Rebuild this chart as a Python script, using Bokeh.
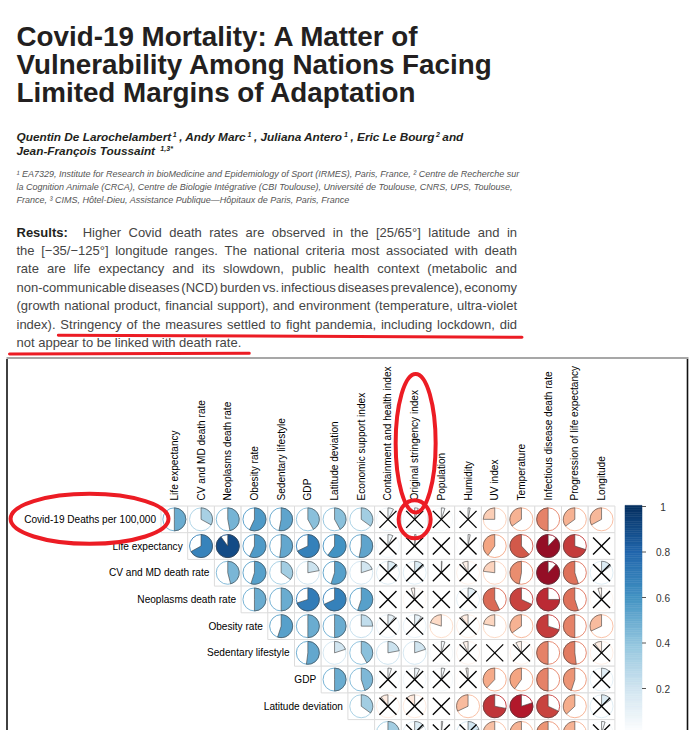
import math
import unicodedata
import numpy as np
from bokeh.plotting import figure
from bokeh.models import Range1d, ColumnDataSource
from bokeh.core.properties import value
from bokeh.embed import file_html
from bokeh.resources import INLINE

# ======================= DATA =======================
title_lines = [
    "Covid-19 Mortality: A Matter of",
    "Vulnerability Among Nations Facing",
    "Limited Margins of Adaptation",
]
author_line1 = [("Quentin De Larochelambert", "n"), ("1", "sup"), (", Andy Marc", "n"), ("1", "sup"),
                (", Juliana Antero", "n"), ("1", "sup"), (", Eric Le Bourg", "n"), ("2", "sup"), (" and", "n")]
author_line2 = [("Jean-François Toussaint ", "n"), ("1,3*", "sup")]
affil_lines = [
    "¹ EA7329, Institute for Research in bioMedicine and Epidemiology of Sport (IRMES), Paris, France, ² Centre de Recherche sur",
    "la Cognition Animale (CRCA), Centre de Biologie Intégrative (CBI Toulouse), Université de Toulouse, CNRS, UPS, Toulouse,",
    "France, ³ CIMS, Hôtel-Dieu, Assistance Publique—Hôpitaux de Paris, Paris, France",
]
results_lines = [
    "Results:  Higher Covid death rates are observed in the [25/65°] latitude and in",
    "the [−35/−125°] longitude ranges. The national criteria most associated with death",
    "rate are life expectancy and its slowdown, public health context (metabolic and",
    "non-communicable diseases (NCD) burden vs. infectious diseases prevalence), economy",
    "(growth national product, financial support), and environment (temperature, ultra-violet",
    "index). Stringency of the measures settled to fight pandemia, including lockdown, did",
    "not appear to be linked with death rate.",
]
highlight_word = "Stringency"

variables = [
    "Covid-19 Deaths per 100,000", "Life expectancy", "CV and MD death rate", "Neoplasms death rate",
    "Obesity rate", "Sedentary lifestyle", "GDP", "Latitude deviation", "Economic support index",
    "Containment and health index", "Original stringency index", "Population", "Humidity", "UV index",
    "Temperature", "Infectious disease death rate", "Progression of life expectancy", "Longitude",
]
col_vars = variables[1:]

# correlation of each row variable with the columns, starting at the row's own column index
corr_covid = [0.50, 0.33, 0.47, 0.57, 0.53, 0.42, 0.42, 0.35, 0.08, 0.05, 0.05, 0.03, -0.25, -0.35, -0.50, -0.35, -0.33]
corr_life = [0.67, 0.90, 0.57, 0.52, 0.68, 0.60, 0.53, 0.07, 0.02, 0.00, 0.03, -0.40, -0.62, -0.88, -0.70, 0.00]
corr_cvmd = [0.46, 0.55, 0.35, 0.22, 0.55, 0.20, 0.15, 0.15, 0.01, -0.08, -0.23, -0.47, -0.88, -0.55, 0.15]
corr_neo = [0.50, 0.50, 0.70, 0.68, 0.55, 0.00, -0.05, 0.00, 0.12, -0.57, -0.68, -0.75, -0.55, -0.05]
corr_obes = [0.55, 0.50, 0.50, 0.25, 0.10, 0.10, -0.20, -0.10, -0.22, -0.35, -0.70, -0.50, -0.32]
corr_sed = [0.52, 0.20, 0.42, 0.22, 0.20, 0.05, -0.07, 0.00, -0.08, -0.50, -0.52, -0.10]
corr_gdp = [0.50, 0.45, 0.05, 0.07, 0.05, -0.03, -0.38, -0.40, -0.50, -0.45, 0.12]
corr_lat = [0.35, -0.10, -0.12, 0.00, -0.32, -0.72, -0.80, -0.68, -0.37, 0.15]
corr_econ = [0.35, 0.15, 0.02, 0.20, -0.30, -0.35, -0.45, -0.35, 0.05]

# non-significant cells (column indices), crossed out
ns_covid = [8, 9, 10, 11]
ns_life = [8, 9, 10, 11, 16]
ns_cvmd = [8, 9, 10, 11, 16]
ns_neo = [8, 9, 10, 11, 16]
ns_obes = [8, 9, 11]
ns_sed = [10, 11, 12, 13, 16]
ns_gdp = [8, 9, 10, 11, 16]
ns_lat = [8, 9, 10, 16]
ns_econ = [9, 10, 11, 16]

row_corrs = [corr_covid, corr_life, corr_cvmd, corr_neo, corr_obes, corr_sed, corr_gdp, corr_lat, corr_econ]
row_ns = [ns_covid, ns_life, ns_cvmd, ns_neo, ns_obes, ns_sed, ns_gdp, ns_lat, ns_econ]

cbar_ticks = [1.0, 0.8, 0.6, 0.4, 0.2, 0.0, -0.2, -0.4, -0.6, -0.8, -1.0]
highlight_row = 0
highlight_col = 9

# ======================= STYLE / LAYOUT =======================
RDBU = ["#67001F", "#B2182B", "#D6604D", "#F4A582", "#FDDBC7", "#FFFFFF",
        "#D1E5F0", "#92C5DE", "#4393C3", "#2166AC", "#053061"]
FONT = "Liberation Sans"
RED = "#ec1c24"
W, H = 698, 730
MID = 0.34  # baseline -> visual middle, in font sizes

GRID_LEFT, GRID_TOP, CELL = 160.5, 505.5, 26.7
PIE_R, X_HALF = 11.5, 8.5
CB_LEFT, CB_RIGHT, CB_TOP, CB_SCALE = 624.5, 641.5, 506.0, 227.5

REG = {' ': 278, '!': 278, '"': 355, "'": 191, '(': 333, ')': 333, '*': 389, '+': 584, ',': 278, '-': 333,
       '.': 278, '/': 278, ':': 278, ';': 278, '?': 556, '[': 278, ']': 278, '°': 400, '−': 584, '—': 1000,
       '¹': 333, '²': 333, '³': 333}
BOLD = {' ': 278, '!': 333, '"': 474, "'": 238, '(': 333, ')': 333, '*': 389, '+': 584, ',': 278, '-': 333,
        '.': 278, '/': 278, ':': 333, ';': 333, '?': 611, '[': 333, ']': 333, '°': 400, '−': 584, '—': 1000,
        '¹': 333, '²': 333, '³': 333}
for ch, w in zip("ABCDEFGHIJKLMNOPQRSTUVWXYZ",
                 [667, 667, 722, 722, 667, 611, 778, 722, 278, 500, 667, 556, 833, 722, 778, 667, 778, 722, 667, 611, 722, 667, 944, 667, 667, 611]):
    REG[ch] = w
for ch, w in zip("abcdefghijklmnopqrstuvwxyz",
                 [556, 556, 500, 556, 556, 278, 556, 556, 222, 222, 500, 222, 833, 556, 556, 556, 556, 333, 500, 278, 556, 500, 722, 500, 500, 500]):
    REG[ch] = w
for ch, w in zip("ABCDEFGHIJKLMNOPQRSTUVWXYZ",
                 [722, 722, 722, 722, 667, 611, 778, 722, 278, 556, 722, 611, 833, 722, 778, 667, 778, 722, 667, 611, 722, 667, 944, 667, 667, 611]):
    BOLD[ch] = w
for ch, w in zip("abcdefghijklmnopqrstuvwxyz",
                 [556, 611, 556, 611, 556, 333, 611, 611, 278, 278, 556, 278, 889, 611, 611, 611, 611, 389, 556, 333, 611, 556, 778, 556, 556, 500]):
    BOLD[ch] = w
for d in "0123456789":
    REG[d] = 556
    BOLD[d] = 556


def text_em(s, bold=False):
    t = BOLD if bold else REG
    w = 0
    for ch in s:
        if ch in t:
            w += t[ch]
        else:
            w += t.get(unicodedata.normalize("NFD", ch)[0], 556)
    return w / 1000.0


def Y(py):
    return H - py


def hex2rgb(h):
    return tuple(int(h[i:i + 2], 16) for i in (1, 3, 5))


def corr_color(r):
    t = (r + 1) / 2 * (len(RDBU) - 1)
    i = min(int(math.floor(t)), len(RDBU) - 2)
    f = t - i
    a, b = hex2rgb(RDBU[i]), hex2rgb(RDBU[i + 1])
    return "#%02x%02x%02x" % tuple(int(round(a[k] + (b[k] - a[k]) * f)) for k in range(3))


p = figure(width=W, height=H, x_range=Range1d(0, W), y_range=Range1d(0, H),
           output_backend="svg", toolbar_location=None, min_border=0,
           x_axis_location=None, y_axis_location=None)
p.grid.visible = False
p.outline_line_color = None
p.background_fill_color = "white"
p.border_fill_color = "white"


def add_text(xs, ys, texts, size, style="normal", color="#000000", align="left", angle=0.0, on_baseline=True):
    """ys are baselines (on_baseline) or visual centres; text is drawn vertically centred."""
    yy = [Y(v - MID * size) if on_baseline else Y(v) for v in ys]
    src = ColumnDataSource(dict(x=list(xs), y=yy, text=list(texts)))
    p.text(x="x", y="y", text="text", source=src, text_font=value(FONT),
           text_font_size=value("%.2fpx" % size), text_font_style=style, text_color=color,
           text_align=align, text_baseline="middle", angle=angle)


# ---------------- header text ----------------
TITLE_FS = 27.8
add_text([16] * 3, [45, 73, 101], title_lines, TITLE_FS, "bold", "#231f20")

AUTH_FS = 11.8
main_x, main_y, main_t, sup_x, sup_y, sup_t = [], [], [], [], [], []
for segs, base in ((author_line1, 141.0), (author_line2, 155.0)):
    x = 16.0
    for txt, kind in segs:
        if kind == "sup":
            sfs = AUTH_FS * 0.6
            x += 1.5
            sup_x.append(x); sup_y.append(base - AUTH_FS * 0.38); sup_t.append(txt)
            x += text_em(txt, True) * sfs + 2.5
        else:
            main_x.append(x); main_y.append(base); main_t.append(txt)
            x += text_em(txt, True) * AUTH_FS
add_text(main_x, main_y, main_t, AUTH_FS, "bold italic", "#231f20")
add_text(sup_x, sup_y, sup_t, AUTH_FS * 0.6, "bold italic", "#231f20")

AFF_FS = 503.0 / text_em(affil_lines[0])
add_text([16] * 3, [177.0, 190.0, 202.5], affil_lines, AFF_FS, "italic", "#555555")

# justified paragraph
PARA_FS, PARA_L, PARA_R, PARA_TOP, PARA_LH = 13.0, 16.0, 516.5, 236.0, 18.45
w_x, w_y, w_t, b_x, b_y, b_t = [], [], [], [], [], []
underline_starts = {}
for i, line in enumerate(results_lines):
    words = line.split(" ")
    base = PARA_TOP + i * PARA_LH
    widths = [text_em(w, bold=(i == 0 and j == 0)) * PARA_FS for j, w in enumerate(words)]
    if i < len(results_lines) - 1:
        gap = (PARA_R - PARA_L - sum(widths)) / (len(words) - 1)
    else:
        gap = 0.278 * PARA_FS
    x = PARA_L
    for j, (w, wd) in enumerate(zip(words, widths)):
        if w:
            if i == 0 and j == 0:
                b_x.append(x); b_y.append(base); b_t.append(w)
            else:
                w_x.append(x); w_y.append(base); w_t.append(w)
            if w == highlight_word:
                underline_starts[i] = x
        x += wd + gap
    if i == len(results_lines) - 1:
        last_end = x - gap
add_text(w_x, w_y, w_t, PARA_FS, "normal", "#454545")
add_text(b_x, b_y, b_t, PARA_FS, "bold", "#231f20")

# figure frame
p.segment(x0=[6], y0=[Y(357.5)], x1=[688], y1=[Y(357.5)], line_color="#8a8a8a", line_width=1.5)
p.segment(x0=[6.5, 687.0], y0=[Y(358.5)] * 2, x1=[6.5, 687.0], y1=[Y(H)] * 2,
          line_color="#111111", line_width=1.6)

# ---------------- correlation grid ----------------
cx, cy, ccol, st, en, wcol = [], [], [], [], [], []
wx, wy = [], []
xs0, ys0, xs1, ys1 = [], [], [], []
for r, (vals, ns) in enumerate(zip(row_corrs, row_ns)):
    for k, v in enumerate(vals):
        c = r + k
        x = GRID_LEFT + (c + 0.5) * CELL
        y = Y(GRID_TOP + (r + 0.5) * CELL)
        cx.append(x); cy.append(y); ccol.append(corr_color(v))
        if abs(v) > 0.004:
            wx.append(x); wy.append(y); wcol.append(corr_color(v))
            if v > 0:
                st.append(math.pi / 2 - 2 * math.pi * v); en.append(math.pi / 2)
            else:
                st.append(math.pi / 2); en.append(math.pi / 2 + 2 * math.pi * (-v))
        if c in ns:
            xs0 += [x - X_HALF, x - X_HALF]; ys0 += [y + X_HALF, y - X_HALF]
            xs1 += [x + X_HALF, x + X_HALF]; ys1 += [y - X_HALF, y + X_HALF]

p.rect(x=cx, y=cy, width=CELL, height=CELL, fill_color="white", line_color="#dcdcdc", line_width=1)
p.circle(x=cx, y=cy, radius=PIE_R, fill_color=None, line_color=ccol, line_width=0.9)
p.wedge(x=wx, y=wy, radius=PIE_R, start_angle=st, end_angle=en, direction="anticlock",
        fill_color=wcol, line_color="#404040", line_width=0.6)
p.segment(x0=xs0, y0=ys0, x1=xs1, y1=ys1, line_color="#000000", line_width=1.3)

# labels (only those that fall inside the picture)
LAB_FS = 10.1
add_text([GRID_LEFT + (c + 0.5) * CELL for c in range(len(col_vars))], [500.0] * len(col_vars),
         col_vars, LAB_FS, "normal", "#000000", "left", math.pi / 2, on_baseline=False)
vis_rows = [r for r in range(len(row_corrs)) if GRID_TOP + (r + 0.5) * CELL + LAB_FS * 0.5 < H]
add_text([GRID_LEFT + r * CELL - 5.0 for r in vis_rows],
         [GRID_TOP + (r + 0.5) * CELL for r in vis_rows],
         [variables[r] for r in vis_rows], LAB_FS, "normal", "#000000", "right", on_baseline=False)

# ---------------- colour bar ----------------
levels = np.linspace(-1, 1, 201)
step = levels[1] - levels[0]
p.quad(left=CB_LEFT, right=CB_RIGHT,
       bottom=[Y(CB_TOP + (1 - (v - step / 2)) * CB_SCALE) for v in levels],
       top=[Y(CB_TOP + (1 - (v + step / 2)) * CB_SCALE) for v in levels],
       fill_color=[corr_color(v) for v in levels], line_color=[corr_color(v) for v in levels], line_width=0.5)
tick_py = [CB_TOP + (1 - t) * CB_SCALE for t in cbar_ticks]
p.segment(x0=[CB_RIGHT] * len(tick_py), y0=[Y(v) for v in tick_py],
          x1=[CB_RIGHT + 4] * len(tick_py), y1=[Y(v) for v in tick_py],
          line_color="#555555", line_width=1)
vis_ticks = [(t, v) for t, v in zip(cbar_ticks, tick_py) if v + LAB_FS * 0.5 < H]
add_text([662.5] * len(vis_ticks), [v for _, v in vis_ticks],
         ["%g" % t for t, _ in vis_ticks], LAB_FS, "normal", "#333333", "center", on_baseline=False)

# ---------------- red highlights ----------------
lab_w = text_em(variables[highlight_row]) * LAB_FS
lab_right = GRID_LEFT + highlight_row * CELL - 5.0
row_cy = GRID_TOP + (highlight_row + 0.5) * CELL
col_cx = GRID_LEFT + (highlight_col + 0.5) * CELL
col_len = text_em(col_vars[highlight_col]) * LAB_FS
p.ellipse(x=[lab_right - lab_w / 2 - 0.5, col_cx + 1.0, col_cx],
          y=[Y(row_cy - 0.5), Y(500.0 - col_len / 2 - 2.0), Y(row_cy)],
          width=[lab_w + 26, 40, 32], height=[50, col_len + 28, 38],
          fill_color=None, line_color=RED, line_width=4)
b5 = PARA_TOP + 5 * PARA_LH
b6 = PARA_TOP + 6 * PARA_LH
p.segment(x0=[underline_starts[5] - 2, PARA_L - 7], y0=[Y(b5 + 6.5), Y(b6 + 6.8)],
          x1=[PARA_R + 5, last_end + 8], y1=[Y(b5 + 8.5), Y(b6 + 6.0)],
          line_color=RED, line_width=3, line_cap="round")

open("out.html", "w").write(file_html(p, INLINE))
